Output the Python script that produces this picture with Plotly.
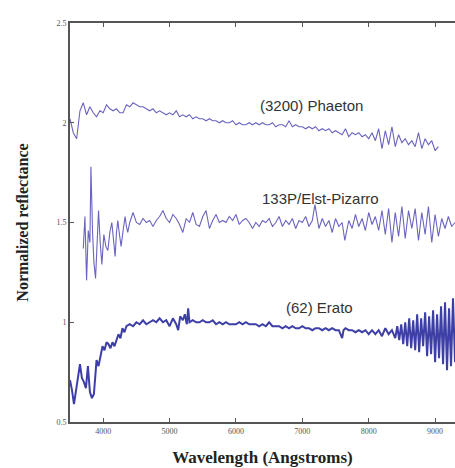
import plotly.graph_objects as go

# ---------------- data ----------------
phaeton_wl = [3500, 3550, 3600, 3650, 3700, 3750, 3800, 3850, 3900, 3950,
              4000, 4050, 4100, 4150, 4200, 4250, 4300, 4350, 4400, 4450,
              4500, 4550, 4600, 4650, 4700, 4750, 4800, 4850, 4900, 4950,
              5000, 5050, 5100, 5150, 5200, 5250, 5300, 5350, 5400, 5450,
              5500, 5550, 5600, 5650, 5700, 5750, 5800, 5850, 5900, 5950,
              6000, 6050, 6100, 6150, 6200, 6250, 6300, 6350, 6400, 6450,
              6500, 6550, 6600, 6650, 6700, 6750, 6800, 6850, 6900, 6950,
              7000, 7050, 7100, 7150, 7200, 7250, 7300, 7350, 7400, 7450,
              7500, 7550, 7600, 7650, 7700, 7750, 7800, 7850, 7900, 7950,
              8000, 8050, 8100, 8150, 8200, 8250, 8300, 8350, 8400, 8450,
              8500, 8550, 8600, 8650, 8700, 8750, 8800, 8850, 8900, 8950,
              9000, 9050]
phaeton_r = [2.02, 1.95, 1.92, 2.06, 2.10, 2.04, 2.08, 2.05, 2.03, 2.06,
             2.05, 2.09, 2.07, 2.06, 2.07, 2.05, 2.05, 2.09, 2.08, 2.10,
             2.09, 2.08, 2.08, 2.07, 2.06, 2.07, 2.05, 2.06, 2.05, 2.04,
             2.05, 2.04, 2.06, 2.03, 2.04, 2.03, 2.04, 2.02, 2.03, 2.02,
             2.02, 2.01, 2.02, 2.01, 2.01, 2.00, 2.01, 2.00, 2.00, 2.01,
             1.99, 2.00, 1.99, 1.99, 2.00, 1.99, 2.00, 1.99, 2.00, 1.99,
             1.99, 2.00, 1.98, 1.99, 1.99, 1.98, 2.01, 1.98, 1.99, 1.98,
             1.98, 1.97, 1.98, 1.97, 1.98, 1.96, 1.97, 1.96, 1.97, 1.95,
             1.96, 1.95, 1.94, 1.97, 1.93, 1.95, 1.94, 1.95, 1.93, 1.94,
             1.92, 1.95, 1.91, 1.97, 1.87, 1.96, 1.89, 1.98, 1.88, 1.94,
             1.90, 1.92, 1.89, 1.91, 1.88, 1.95, 1.87, 1.92, 1.89, 1.91,
             1.86, 1.88]

elst_wl = [3700, 3725, 3750, 3775, 3800, 3815, 3840, 3860, 3885, 3910,
           3930, 3955, 3980, 4010, 4040, 4070, 4100, 4130, 4155, 4180,
           4200, 4220, 4245, 4270, 4300, 4330, 4350, 4370, 4400, 4450,
           4500, 4550, 4600, 4650, 4700, 4750, 4800, 4850, 4900, 4950,
           5000, 5050, 5100, 5150, 5200, 5250, 5300, 5350, 5400, 5450,
           5500, 5550, 5600, 5650, 5700, 5750, 5800, 5850, 5900, 5950,
           6000, 6050, 6100, 6150, 6200, 6250, 6300, 6350, 6400, 6450,
           6500, 6550, 6600, 6650, 6700, 6750, 6800, 6850, 6900, 6950,
           7000, 7050, 7100, 7150, 7190, 7250, 7300, 7350, 7400, 7450,
           7500, 7550, 7600, 7640, 7700, 7750, 7800, 7850, 7900, 7950,
           8000, 8050, 8100, 8150, 8200, 8250, 8300, 8350, 8400, 8450,
           8500, 8550, 8600, 8650, 8700, 8750, 8800, 8850, 8900, 8950,
           9000, 9050, 9100, 9150, 9200, 9250, 9300]
elst_r = [1.37, 1.53, 1.21, 1.46, 1.40, 1.78, 1.45, 1.30, 1.22, 1.45,
          1.56, 1.40, 1.29, 1.44, 1.38, 1.36, 1.45, 1.50, 1.40, 1.33,
          1.45, 1.51, 1.44, 1.38, 1.46, 1.53, 1.48, 1.45, 1.50, 1.55,
          1.50, 1.49, 1.52, 1.50, 1.51, 1.48, 1.51, 1.53, 1.56, 1.52,
          1.50, 1.54, 1.52, 1.49, 1.45, 1.52, 1.50, 1.55, 1.49, 1.48,
          1.53, 1.56, 1.47, 1.51, 1.54, 1.50, 1.51, 1.50, 1.53, 1.51,
          1.54, 1.49, 1.51, 1.52, 1.50, 1.47, 1.50, 1.48, 1.51, 1.50,
          1.52, 1.48, 1.50, 1.53, 1.48, 1.51, 1.49, 1.52, 1.47, 1.51,
          1.50, 1.53, 1.48, 1.51, 1.59, 1.47, 1.52, 1.48, 1.51, 1.45,
          1.52, 1.48, 1.50, 1.41, 1.51, 1.47, 1.54, 1.48, 1.52, 1.46,
          1.55, 1.49, 1.53, 1.46, 1.56, 1.44, 1.57, 1.40, 1.55, 1.43,
          1.58, 1.42, 1.56, 1.47, 1.57, 1.41, 1.55, 1.44, 1.58, 1.40,
          1.54, 1.43, 1.52, 1.47, 1.53, 1.48, 1.50]

erato_wl = [3500, 3530, 3560, 3590, 3620, 3650, 3680, 3710, 3740, 3770,
            3800, 3830, 3860, 3880, 3900, 3930, 3960, 3990, 4020, 4050,
            4080, 4110, 4140, 4170, 4200, 4230, 4260, 4290, 4320, 4350,
            4400, 4450, 4500, 4550, 4600, 4650, 4700, 4750, 4800, 4850,
            4900, 4950, 5000, 5050, 5100, 5130, 5160, 5200, 5230, 5260,
            5280, 5300, 5350, 5400, 5450, 5500, 5550, 5600, 5650, 5700,
            5750, 5800, 5850, 5900, 5950, 6000, 6050, 6100, 6150, 6200,
            6250, 6300, 6350, 6400, 6450, 6500, 6550, 6600, 6650, 6700,
            6750, 6800, 6850, 6900, 6950, 7000, 7050, 7100, 7150, 7200,
            7250, 7300, 7350, 7400, 7450, 7500, 7550, 7600, 7620, 7650,
            7700, 7750, 7800, 7850, 7900, 7950, 8000, 8050, 8100, 8150,
            8200, 8250, 8300, 8350, 8400, 8430, 8460, 8490, 8520, 8550,
            8580, 8610, 8640, 8670, 8700, 8730, 8760, 8790, 8820, 8850,
            8880, 8910, 8940, 8970, 9000, 9030, 9060, 9090, 9120, 9150,
            9180, 9210, 9240, 9270, 9300]
erato_r = [0.71, 0.66, 0.59, 0.66, 0.73, 0.79, 0.72, 0.70, 0.67, 0.78,
           0.65, 0.62, 0.64, 0.72, 0.81, 0.78, 0.84, 0.88, 0.86, 0.90,
           0.89, 0.87, 0.90, 0.88, 0.91, 0.94, 0.92, 0.97, 0.95, 0.98,
           0.99, 0.98, 1.00, 0.99, 1.01, 0.99, 1.00, 1.01, 1.00, 1.02,
           1.00, 1.01, 0.98, 1.02, 0.99, 0.96, 1.03, 1.01, 1.04, 0.99,
           1.07, 1.00, 1.01, 1.00, 1.00, 1.01, 1.00, 1.00, 1.01, 0.99,
           1.00, 0.99, 1.00, 0.99, 0.99, 0.99, 1.00, 0.99, 1.00, 0.99,
           0.99, 0.99, 0.98, 0.99, 0.98, 1.00, 0.98, 0.98, 0.98, 0.97,
           0.98, 0.97, 0.98, 0.97, 0.97, 0.98, 0.97, 0.97, 0.96, 0.97,
           0.97, 0.96, 0.97, 0.96, 0.97, 0.96, 0.96, 0.92, 0.96, 0.97,
           0.96, 0.96, 0.95, 0.96, 0.95, 0.96, 0.94, 0.96, 0.94, 0.96,
           0.93, 0.97, 0.94, 0.96, 0.92, 0.98, 0.91, 0.99, 0.89, 1.00,
           0.88, 1.02, 0.87, 1.01, 0.86, 1.04, 0.85, 1.02, 0.88, 1.05,
           0.83, 1.03, 0.84, 1.06, 0.80, 1.04, 0.82, 1.08, 0.79, 1.10,
           0.76, 1.07, 0.78, 1.12, 0.80]

x_ticks = [4000, 5000, 6000, 7000, 8000, 9000]
y_ticks = [0.5, 1, 1.5, 2, 2.5]
labels = ["(3200) Phaeton", "133P/Elst-Pizarro", "(62) Erato"]
label_x = [7140, 7280, 7265]
label_y = [2.087, 1.62, 1.075]

# ---------------- figure ----------------
fig = go.Figure()
fig.add_trace(go.Scatter(x=phaeton_wl, y=phaeton_r, mode="lines",
                         line=dict(color="#6a64bf", width=1.1), name=labels[0]))
fig.add_trace(go.Scatter(x=elst_wl, y=elst_r, mode="lines",
                         line=dict(color="#6a64bf", width=1.1), name=labels[1]))
fig.add_trace(go.Scatter(x=erato_wl, y=erato_r, mode="lines",
                         line=dict(color="#3d3fa6", width=2), name=labels[2]))

for t, xx, yy in zip(labels, label_x, label_y):
    fig.add_annotation(x=xx, y=yy, text=t, showarrow=False,
                       font=dict(family="Liberation Sans, Arial", size=15, color="#333333"))

serif = "Liberation Serif, Times New Roman, serif"
fig.update_layout(
    width=455, height=468,
    margin=dict(l=70, r=0, t=23, b=46),
    paper_bgcolor="white", plot_bgcolor="white",
    showlegend=False,
    xaxis=dict(range=[3500, 9300], tickvals=x_ticks,
               ticks="inside", ticklen=4, tickcolor="#555555",
               showline=True, linecolor="#555555", linewidth=2, mirror="ticks",
               showgrid=False, zeroline=False,
               tickfont=dict(family=serif, size=8, color="#555555"),
               title=dict(text="<b>Wavelength (Angstroms)</b>", standoff=17,
                          font=dict(family=serif, size=17, color="#222222"))),
    yaxis=dict(range=[0.5, 2.5], tickvals=y_ticks,
               ticks="inside", ticklen=4, tickcolor="#555555",
               showline=True, linecolor="#555555", linewidth=2,
               showgrid=False, zeroline=False,
               tickfont=dict(family=serif, size=8, color="#555555"),
               title=dict(text="<b>Normalized reflectance</b>", standoff=24,
                          font=dict(family=serif, size=16, color="#222222"))),
)

fig.write_html("out.html", config={"displayModeBar": False},
               post_script="document.body.style.margin='0px';document.body.style.overflow='hidden';")
